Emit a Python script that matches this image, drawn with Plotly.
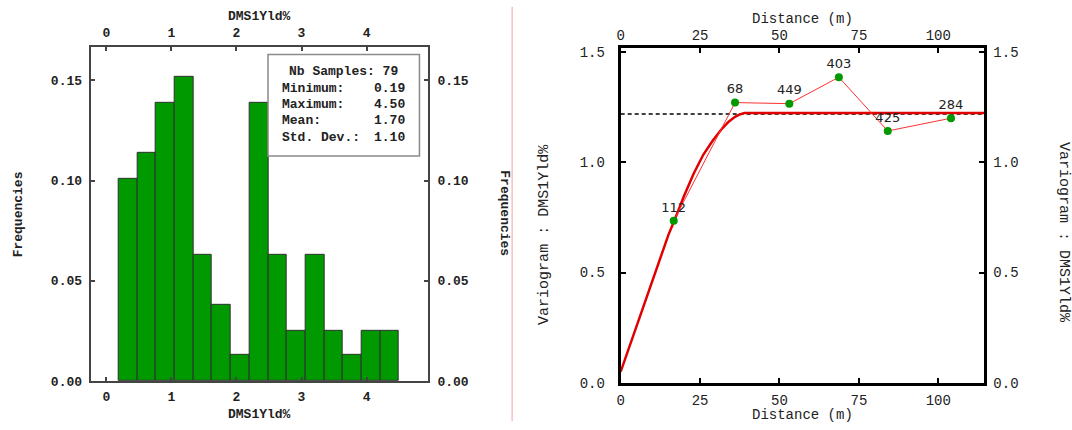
import plotly.graph_objects as go

# ---------------- data ----------------
hist_min, hist_max = 0.19, 4.50
hist_freq = [0.101, 0.114, 0.139, 0.152, 0.063, 0.038, 0.013, 0.139,
             0.063, 0.025, 0.063, 0.025, 0.013, 0.025, 0.025]
hist_xticks = [0, 1, 2, 3, 4]
hist_yticks = [0.00, 0.05, 0.10, 0.15]

n_samples = 79
stat_labels = ["Minimum:", "Maximum:", "Mean:", "Std. Dev.:"]
stat_values = ["0.19", "4.50", "1.70", "1.10"]

lag_dist = [16.7, 36.0, 53.1, 68.7, 84.1, 104.0]
lag_gamma = [0.735, 1.272, 1.267, 1.387, 1.143, 1.201]
lag_pairs = [112, 68, 449, 403, 425, 284]

model_h = [0, 5, 10, 15, 17, 20, 23, 26, 29, 32, 34, 36, 37.5, 39, 114.5]
model_g = [0.05, 0.26, 0.47, 0.67, 0.74, 0.85, 0.95, 1.035, 1.10, 1.155, 1.185, 1.207, 1.218, 1.225, 1.225]

variance = 1.22
dist_max = 114.5
vario_xticks = [0, 25, 50, 75, 100]
vario_yticks = [0.0, 0.5, 1.0, 1.5]

# ---------------- layout helpers ----------------
W, H = 1072, 430
def px(x):
    return x / W
def py(y):
    return 1 - y / H

n_bins = len(hist_freq)
bw = (hist_max - hist_min) / n_bins
centers = [hist_min + bw * (i + 0.5) for i in range(n_bins)]

green = "#009900"

fig = go.Figure()
fig.add_trace(go.Bar(x=centers, y=hist_freq, width=bw,
                     marker=dict(color=green, line=dict(color="#303030", width=1)),
                     xaxis="x", yaxis="y", hoverinfo="skip"))
fig.add_trace(go.Scatter(x=[], y=[], xaxis="x2", yaxis="y", showlegend=False))
fig.add_trace(go.Scatter(x=[], y=[], xaxis="x", yaxis="y2", showlegend=False))

# variogram
fig.add_trace(go.Scatter(x=[0, dist_max], y=[variance, variance], mode="lines",
                         line=dict(color="black", width=1.3, dash="4px,3px"),
                         xaxis="x3", yaxis="y3", hoverinfo="skip"))
fig.add_trace(go.Scatter(x=model_h, y=model_g, mode="lines",
                         line=dict(color="#e00000", width=2.5),
                         xaxis="x3", yaxis="y3", hoverinfo="skip"))
fig.add_trace(go.Scatter(x=lag_dist, y=lag_gamma, mode="lines+markers+text",
                         line=dict(color="#ff3030", width=1),
                         marker=dict(color=green, size=8),
                         text=[str(p) for p in lag_pairs], textposition="top center",
                         textfont=dict(family="DejaVu Sans", size=13, color="#222222"),
                         xaxis="x3", yaxis="y3", hoverinfo="skip"))
fig.add_trace(go.Scatter(x=[], y=[], xaxis="x4", yaxis="y3", showlegend=False))
fig.add_trace(go.Scatter(x=[], y=[], xaxis="x3", yaxis="y4", showlegend=False))

left_dom_x = [px(87), px(426)]
left_dom_y = [py(389), py(46)]
right_dom_x = [px(619), px(984)]
right_dom_y = [py(390.7), py(46.7)]

lfont = dict(family="Liberation Mono", size=13, color="#222222", weight="bold")
rfont = dict(family="Liberation Mono", size=14, color="#222222")

common_l = dict(ticks="inside", ticklen=4, tickwidth=2, tickcolor="#444",
                showgrid=False, zeroline=False, tickfont=lfont)
common_r = dict(ticks="inside", ticklen=5, tickwidth=2, tickcolor="black",
                showgrid=False, zeroline=False, tickfont=rfont)

hx_range = [-0.24, 4.95]
hy_range = [0, 0.1668]
vx_range = [0, dist_max]
vy_range = [0, 1.522]

fig.update_layout(
    width=W, height=H, margin=dict(l=0, r=0, t=0, b=0),
    paper_bgcolor="white", plot_bgcolor="white", showlegend=False,
    bargap=0,
    xaxis=dict(domain=left_dom_x, range=hx_range, anchor="y", tickvals=hist_xticks,
               showline=True, linecolor="#444", linewidth=2, mirror="ticks",
               ticklabelstandoff=2, **common_l),
    xaxis2=dict(domain=left_dom_x, range=hx_range, anchor="y", overlaying="x", side="top",
                tickvals=hist_xticks, showgrid=False, zeroline=False, ticks="",
                showline=False, tickfont=lfont, ticklabelstandoff=6),
    yaxis=dict(domain=left_dom_y, range=hy_range, anchor="x", tickvals=hist_yticks,
               tickformat=".2f", showline=True, linecolor="#444", linewidth=2, mirror="ticks",
               ticklabelstandoff=4, **common_l),
    yaxis2=dict(domain=left_dom_y, range=hy_range, anchor="x", overlaying="y", side="right",
                tickvals=hist_yticks, tickformat=".2f", showgrid=False, zeroline=False,
                ticks="", showline=False, tickfont=lfont, ticklabelstandoff=8),
    xaxis3=dict(domain=right_dom_x, range=vx_range, anchor="y3", tickvals=vario_xticks,
                showline=True, linecolor="black", linewidth=3, mirror="ticks",
                ticklabelstandoff=2, **common_r),
    xaxis4=dict(domain=right_dom_x, range=vx_range, anchor="y3", overlaying="x3", side="top",
                tickvals=vario_xticks, showgrid=False, zeroline=False, ticks="",
                showline=False, tickfont=rfont, ticklabelstandoff=4),
    yaxis3=dict(domain=right_dom_y, range=vy_range, anchor="x3", tickvals=vario_yticks,
                tickformat=".1f", showline=True, linecolor="black", linewidth=3, mirror="ticks",
                ticklabelstandoff=10, **common_r),
    yaxis4=dict(domain=right_dom_y, range=vy_range, anchor="x3", overlaying="y3", side="right",
                tickvals=vario_yticks, tickformat=".1f", showgrid=False, zeroline=False,
                ticks="", showline=False, tickfont=rfont, ticklabelstandoff=8),
)

ann = []
def A(x, y, text, font, angle=0, xanchor="center", yanchor="middle"):
    ann.append(dict(x=px(x), y=py(y), xref="paper", yref="paper", text=text,
                    showarrow=False, font=font, textangle=angle,
                    xanchor=xanchor, yanchor=yanchor))

A(256, 14.5, "DMS1Yld%", lfont)
A(256, 423, "DMS1Yld%", lfont)
A(14, 218, "Frequencies", lfont, angle=-90)
A(502, 217, "Frequencies", lfont, angle=90)

tfont = dict(family="Liberation Mono", size=15, color="#222222")
A(801, 17.5, "Distance (m)", rfont)
A(801, 423.5, "Distance (m)", rfont)
A(543, 238, "Variogram : DMS1Yld%", tfont, angle=-90)
A(1063, 236, "Variogram : DMS1Yld%", tfont, angle=90)

# stats box
A(341, 71.7, "Nb Samples: " + str(n_samples), lfont)
for i, (lab, val) in enumerate(zip(stat_labels, stat_values)):
    yy = 88.5 + 16.8 * i
    A(277, yy, lab, lfont, xanchor="left")
    A(405, yy, val, lfont, xanchor="right")

fig.update_layout(annotations=ann)

fig.update_layout(shapes=[
    dict(type="rect", xref="paper", yref="paper", x0=px(265), x1=px(417), y0=py(158), y1=py(54),
         line=dict(color="#8a8a8a", width=1.5), fillcolor="white", layer="above"),
    dict(type="line", xref="paper", yref="paper", x0=px(510), x1=px(510), y0=0, y1=py(5),
         line=dict(color="#f2a0a0", width=1)),
])

fig.write_html("out.html")
